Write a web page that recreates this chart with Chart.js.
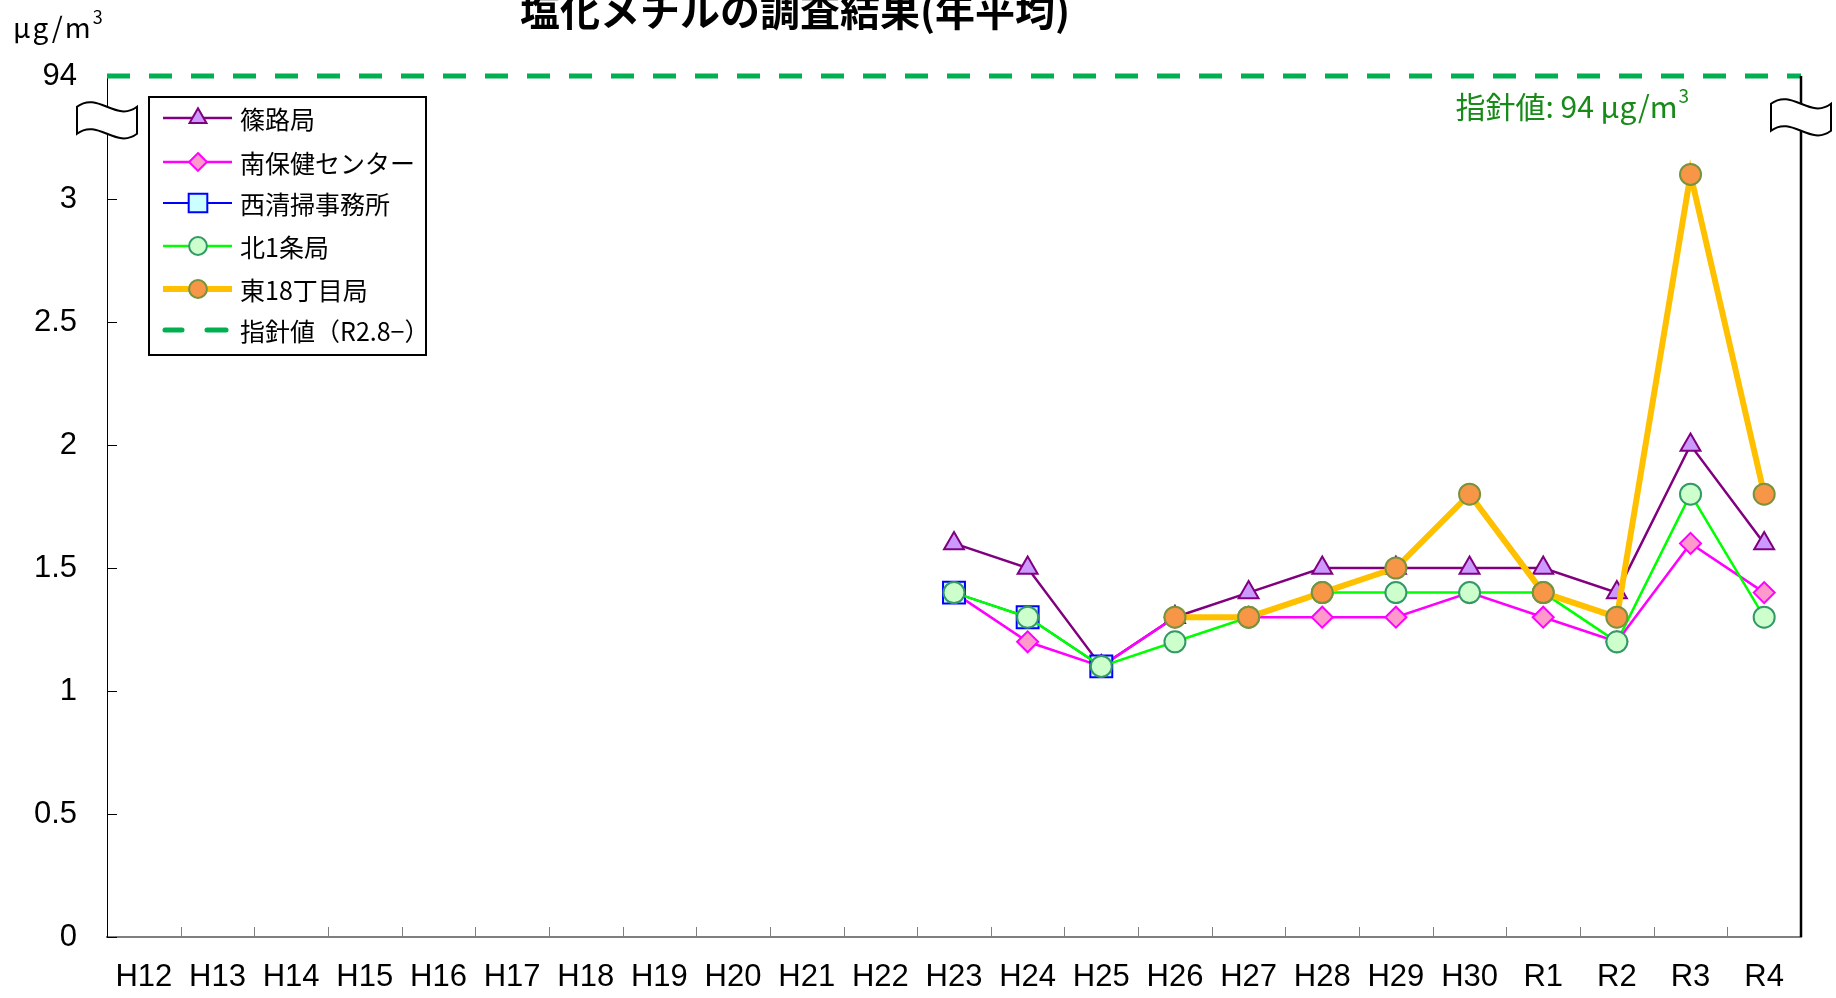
<!DOCTYPE html>
<html lang="ja">
<head>
<meta charset="utf-8">
<title>塩化メチルの調査結果(年平均)</title>
<script src="https://cdn.jsdelivr.net/npm/chart.js@4.4.1/dist/chart.umd.min.js"></script>
<style>
  html, body { margin: 0; padding: 0; background: #fff; }
  canvas { display: block; }
</style>
</head>
<body>
<canvas id="grafico" width="1836" height="998"></canvas>
<script>
// Datos (年平均, μg/m3)
const anios = ["H12", "H13", "H14", "H15", "H16", "H17", "H18", "H19", "H20", "H21", "H22",
  "H23", "H24", "H25", "H26", "H27", "H28", "H29", "H30", "R1", "R2", "R3", "R4"];
const vacio = [null, null, null, null, null, null, null, null, null, null, null]; // H12-H22

const shinoro = [...vacio, 1.6, 1.5, 1.1, 1.3, 1.4, 1.5, 1.5, 1.5, 1.5, 1.4, 2.0, 1.6];
const minamiHoken = [...vacio, 1.4, 1.2, 1.1, 1.3, 1.3, 1.3, 1.3, 1.4, 1.3, 1.2, 1.6, 1.4];
const nishiSeiso = [...vacio, 1.4, 1.3, 1.1, null, null, null, null, null, null, null, null, null];
const kita1jo = [...vacio, 1.4, 1.3, 1.1, 1.2, 1.3, 1.4, 1.4, 1.4, 1.4, 1.2, 1.8, 1.3];
const higashi18 = [...vacio, null, null, null, 1.3, 1.3, 1.4, 1.5, 1.8, 1.4, 1.3, 3.1, 1.8];

// eje y cortado: la parte alta (3.5) representa el 指針値 94
const yTickValues = [0, 0.5, 1, 1.5, 2, 2.5, 3, 3.5];
const yTickLabels = ["0", "0.5", "1", "1.5", "2", "2.5", "3", "94"];
const guideValue = 94;
const guidePos = 3.5;

const tickFont = { family: "'Liberation Sans', Arial, sans-serif", size: 31 };
const jpFont = "'Noto Sans CJK JP', sans-serif";

const series = [
  { label: "篠路局", data: shinoro, borderColor: "#800080", backgroundColor: "#cc99ff",
    pointBorderColor: "#800080", pointStyle: "triangle", pointRadius: 11.5, borderWidth: 2.5, order: 5 },
  { label: "南保健センター", data: minamiHoken, borderColor: "#ff00ff", backgroundColor: "#ff99cc",
    pointBorderColor: "#ff00ff", pointStyle: "rectRot", pointRadius: 10.5, borderWidth: 2.5, order: 4 },
  { label: "西清掃事務所", data: nishiSeiso, borderColor: "#0000ff", backgroundColor: "#ccffff",
    pointBorderColor: "#0000ff", pointStyle: "rect", pointRadius: 15.5, borderWidth: 2, order: 3 },
  { label: "北1条局", data: kita1jo, borderColor: "#00ff00", backgroundColor: "#ccffcc",
    pointBorderColor: "#339966", pointStyle: "circle", pointRadius: 10.5, borderWidth: 2.5, order: 2 },
  { label: "東18丁目局", data: higashi18, borderColor: "#ffc000", backgroundColor: "#f79646",
    pointBorderColor: "#77933c", pointStyle: "circle", pointRadius: 10.5, borderWidth: 6, order: 1 },
];

// marcador para la leyenda
function marcador(ctx, estilo, x, y, r, relleno, borde, ancho) {
  ctx.save();
  ctx.setLineDash([]);
  ctx.fillStyle = relleno;
  ctx.strokeStyle = borde;
  ctx.lineWidth = ancho;
  ctx.beginPath();
  if (estilo === "triangle") {
    ctx.moveTo(x, y - r);
    ctx.lineTo(x + r * 0.866, y + r * 0.5);
    ctx.lineTo(x - r * 0.866, y + r * 0.5);
    ctx.closePath();
  } else if (estilo === "rectRot") {
    ctx.moveTo(x, y - r);
    ctx.lineTo(x + r, y);
    ctx.lineTo(x, y + r);
    ctx.lineTo(x - r, y);
    ctx.closePath();
  } else if (estilo === "rect") {
    const s = r * Math.SQRT1_2;
    ctx.rect(x - s, y - s, 2 * s, 2 * s);
  } else {
    ctx.arc(x, y, r, 0, Math.PI * 2);
  }
  ctx.fill();
  ctx.stroke();
  ctx.restore();
}

// corte del eje (forma ondulada)
function corte(ctx, cx, cy) {
  const w = 60, h = 27;
  const x0 = cx - w / 2, y0 = cy - h / 2;
  ctx.save();
  ctx.setLineDash([]);
  ctx.beginPath();
  ctx.moveTo(x0, y0);
  ctx.bezierCurveTo(x0 + w * 0.35, y0 - 16, x0 + w * 0.65, y0 + 16, x0 + w, y0);
  ctx.lineTo(x0 + w, y0 + h);
  ctx.bezierCurveTo(x0 + w * 0.65, y0 + h + 16, x0 + w * 0.35, y0 + h - 16, x0, y0 + h);
  ctx.closePath();
  ctx.fillStyle = "#fff";
  ctx.fill();
  ctx.strokeStyle = "#000";
  ctx.lineWidth = 2;
  ctx.stroke();
  ctx.restore();
}

const extras = {
  id: "extras",
  beforeDatasetsDraw(chart) {
    const { ctx, chartArea, scales } = chart;
    const gy = scales.y.getPixelForValue(guidePos);
    ctx.save();
    // línea del 指針値
    ctx.strokeStyle = "#00b050";
    ctx.lineWidth = 5;
    ctx.setLineDash([23, 19]);
    ctx.beginPath();
    ctx.moveTo(chartArea.left, gy);
    ctx.lineTo(chartArea.right, gy);
    ctx.stroke();
    ctx.setLineDash([]);

    // marcas interiores del eje x
    ctx.strokeStyle = "#7f7f7f";
    ctx.lineWidth = 1;
    for (let i = 1; i < anios.length; i++) {
      const x = Math.round(scales.x.getPixelForValue(i - 0.5)) + 0.5;
      ctx.beginPath();
      ctx.moveTo(x, chartArea.bottom);
      ctx.lineTo(x, chartArea.bottom - 10);
      ctx.stroke();
    }
    // marcas interiores del eje y
    ctx.strokeStyle = "#000";
    yTickValues.slice(0, -1).forEach((v) => {
      const y = Math.round(scales.y.getPixelForValue(v)) + 0.5;
      ctx.beginPath();
      ctx.moveTo(chartArea.left, y);
      ctx.lineTo(chartArea.left + 10, y);
      ctx.stroke();
    });
    ctx.restore();
  },
  afterDraw(chart) {
    const { ctx, chartArea, scales } = chart;
    const gy = scales.y.getPixelForValue(guidePos);
    ctx.save();

    // eje derecho
    ctx.strokeStyle = "#000";
    ctx.lineWidth = 2.5;
    ctx.beginPath();
    ctx.moveTo(chartArea.right, gy);
    ctx.lineTo(chartArea.right, chartArea.bottom);
    ctx.stroke();

    const cy = scales.y.getPixelForValue(3.32);
    corte(ctx, chartArea.left, cy);
    corte(ctx, chartArea.right, cy - 3);

    // título (cortado arriba)
    ctx.fillStyle = "#000";
    ctx.textAlign = "center";
    ctx.textBaseline = "middle";
    ctx.font = "bold 40px " + jpFont;
    ctx.fillText("塩化メチルの調査結果(年平均)", 795, 11);

    // unidad
    ctx.textAlign = "left";
    ctx.font = "28px " + jpFont;
    ctx.letterSpacing = "2px";
    ctx.fillText("μg/m", 13, 27);
    const wU = ctx.measureText("μg/m").width;
    ctx.letterSpacing = "0px";
    ctx.font = "18px " + jpFont;
    ctx.fillText("3", 13 + wU, 17);

    // etiqueta del 指針値
    ctx.fillStyle = "#178a17";
    const txt = "指針値: " + guideValue + " μg/m";
    ctx.font = "30px " + jpFont;
    const wT = ctx.measureText(txt).width;
    ctx.font = "19px " + jpFont;
    const wS = ctx.measureText("3").width;
    const xT = 1689 - wT - wS - 1;
    ctx.font = "30px " + jpFont;
    ctx.fillText(txt, xT, gy + 31);
    ctx.font = "19px " + jpFont;
    ctx.fillText("3", xT + wT + 1, gy + 20);

    // leyenda
    const lx = 149, ly = 97, lw = 277, lh = 258;
    ctx.fillStyle = "#fff";
    ctx.fillRect(lx, ly, lw, lh);
    ctx.strokeStyle = "#000";
    ctx.lineWidth = 2;
    ctx.strokeRect(lx, ly, lw, lh);

    const filas = [118, 162, 203, 246, 289, 330];
    ctx.font = "25px " + jpFont;
    ctx.textBaseline = "middle";
    chart.data.datasets.forEach((ds, i) => {
      const y = filas[i];
      ctx.strokeStyle = ds.borderColor;
      ctx.lineWidth = ds.borderWidth;
      ctx.beginPath();
      ctx.moveTo(163, y);
      ctx.lineTo(232, y);
      ctx.stroke();
      marcador(ctx, ds.pointStyle, 198, y, ds.pointRadius * 0.85, ds.backgroundColor,
        ds.pointBorderColor, 2);
      ctx.fillStyle = "#000";
      ctx.fillText(ds.label, 240, y + 1);
    });
    const yG = filas[5];
    ctx.strokeStyle = "#00b050";
    ctx.lineWidth = 5;
    ctx.lineCap = "round";
    ctx.beginPath();
    ctx.moveTo(165, yG);
    ctx.lineTo(182, yG);
    ctx.moveTo(207, yG);
    ctx.lineTo(226, yG);
    ctx.stroke();
    ctx.fillStyle = "#000";
    ctx.fillText("指針値（R2.8−）", 240, yG + 1);

    ctx.restore();
  },
};

const ctx = document.getElementById("grafico");
const grafico = new Chart(ctx, {
  type: "line",
  data: {
    labels: anios,
    datasets: series.map((s) => ({
      ...s,
      pointBackgroundColor: s.backgroundColor,
      pointBorderWidth: 2,
      fill: false,
      tension: 0,
    })),
  },
  options: {
    responsive: false,
    animation: false,
    events: [],
    layout: { padding: { top: 76, right: 35, left: 0, bottom: 0 } },
    plugins: {
      legend: { display: false },
      tooltip: { enabled: false },
      title: { display: false },
    },
    scales: {
      x: {
        offset: true,
        grid: { display: false, drawTicks: false },
        border: { display: true, color: "#7f7f7f", width: 2 },
        ticks: { font: tickFont, color: "#000", padding: 22, autoSkip: false, maxRotation: 0 },
        afterFit: (s) => { s.height = 61; },
      },
      y: {
        min: 0,
        max: 3.5,
        afterBuildTicks: (s) => { s.ticks = yTickValues.map((v) => ({ value: v })); },
        grid: { display: false, drawTicks: false },
        border: { display: true, color: "#000", width: 1 },
        ticks: {
          font: tickFont,
          color: "#000",
          padding: 30,
          callback: (v) => yTickLabels[yTickValues.indexOf(v)],
        },
        afterFit: (s) => { s.width = 107; },
      },
    },
  },
  plugins: [extras],
});
</script>
</body>
</html>
